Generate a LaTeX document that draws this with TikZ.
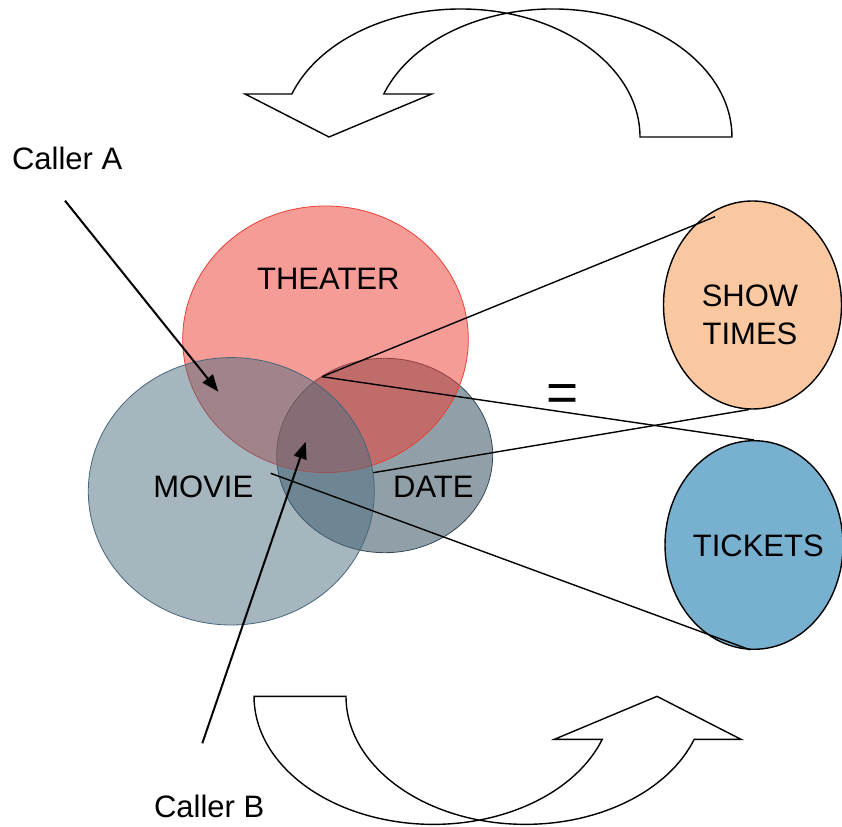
\documentclass[tikz,border=0pt]{standalone}
\usepackage{fontspec}
\setmainfont{Liberation Sans}
\usetikzlibrary{shapes.geometric,arrows.meta,calc}

\definecolor{theaterfill}{RGB}{237,57,47}
\definecolor{theateredge}{RGB}{232,64,54}
\definecolor{moviefill}{RGB}{77,109,127}
\definecolor{movieedge}{RGB}{72,102,122}
\definecolor{datefill}{RGB}{145,160,168}
\definecolor{dateedge}{RGB}{52,72,88}
\definecolor{showfill}{RGB}{249,200,160}
\definecolor{ticketfill}{RGB}{120,176,207}

\begin{document}
\begin{tikzpicture}[x=1pt,y=1pt,
  venn/.style={ellipse, inner sep=0pt, line width=0.8pt},
  side/.style={ellipse, inner sep=0pt, draw=black, line width=1.4pt},
  lbl/.style={font=\fontsize{31}{38}\selectfont, inner sep=0pt, align=center},
  link/.style={line width=1.4pt},
  caller/.style={line width=2pt, -{Triangle[length=17pt,width=13pt]}},
  bent/.style={draw=black, fill=white, line width=1.4pt, line join=miter},
  % curved block arrow: shaft made of two shifted half-ellipses, head on the left
  curvedarrow/.pic={
    \path[bent] (329,689) -- (431.7,732) -- (383.8,732)
      arc[start angle=160.37, end angle=0, x radius=179.3, y radius=128]
      -- (640,689)
      arc[start angle=0, end angle=160.37, x radius=179.3, y radius=128]
      -- (245,732) -- cycle;
  }
]
\useasboundingbox (0,0) rectangle (842,826);

% circular flow arrows above and below
\pic at (0,0) {curvedarrow};
\pic[rotate=180] at (986,818.65) {curvedarrow};

% Venn diagram
\node[venn, fill=datefill, draw=dateedge, minimum width=216pt, minimum height=194.4pt] (date) at (384.7,370.5) {};
\node[venn, fill=theaterfill, fill opacity=0.5, draw=theateredge, minimum width=285.6pt, minimum height=266.6pt] (theater) at (325.5,486.7) {};
\node[venn, fill=moviefill, fill opacity=0.5, draw=movieedge, minimum width=286pt, minimum height=267.4pt] (movie) at (231.3,334.7) {};

\node[lbl] (theaterlbl) at (328.3,547) {THEATER};
\node[lbl] (movielbl) at (203.3,339.3) {MOVIE};
\node[lbl] (datelbl) at (433.3,339.3) {DATE};

% results
\node[side, fill=showfill, minimum width=178pt, minimum height=208pt] (show) at (752.5,521) {};
\node[lbl] (showlbl) at (750,511.5) {SHOW\\TIMES};
\node[side, fill=ticketfill, minimum width=178pt, minimum height=208.6pt] (tickets) at (754,281) {};
\node[lbl] (ticketslbl) at (758.3,280) {TICKETS};

\node[font=\fontsize{55}{60}\selectfont, inner sep=0pt, anchor=base] (equals) at (562.3,414.5) {=};

% projection lines
\coordinate (hub) at (322,449.3);
\coordinate (dateknee) at (373.3,353.3);
\coordinate (movieknee) at (270.7,352.7);
\coordinate (showtop) at ($(show.center)+(-37.5,88.3)$);
\draw[link] (hub) -- (showtop);
\draw[link] (hub) -- (tickets.north);
\draw[link] (dateknee) -- (show.268);
\draw[link] (movieknee) -- (tickets.268);

% callers
\node[lbl] (callerA) at (67.2,667.5) {Caller A};
\coordinate (aStart) at (65,625.3);
\coordinate (aTip) at (218.3,434.3);
\draw[caller] (aStart) -- (aTip);

\node[lbl] (callerB) at (209.2,19.3) {Caller B};
\coordinate (bStart) at (202.3,82.7);
\coordinate (bTip) at (305.7,384.3);
\draw[caller] (bStart) -- (bTip);
\end{tikzpicture}
\end{document}
